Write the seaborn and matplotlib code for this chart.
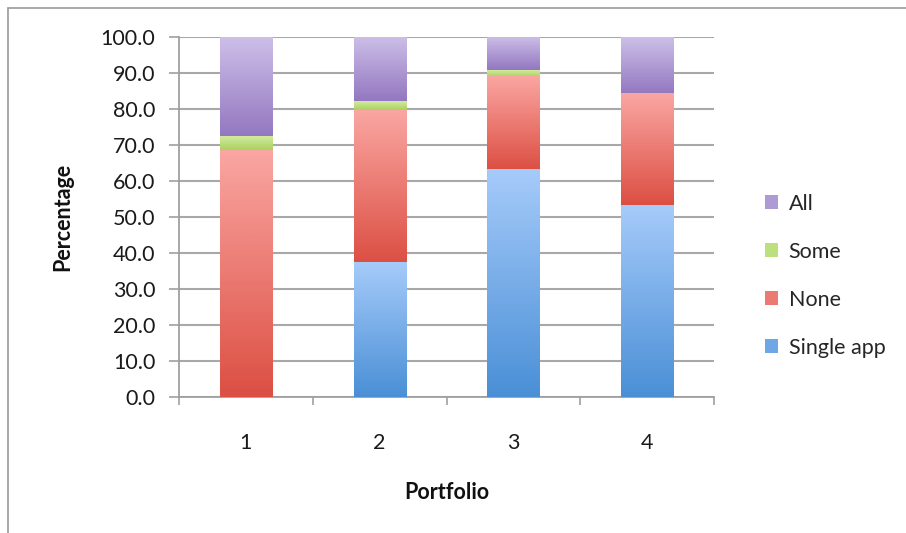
import numpy as np
import pandas as pd
import matplotlib
matplotlib.use("Agg")
import matplotlib.pyplot as plt
from matplotlib.colors import LinearSegmentedColormap
from matplotlib.lines import Line2D
from matplotlib.patches import Patch
import seaborn as sns

# Data: share of each portfolio by coverage type
portfolios = ["1", "2", "3", "4"]
single_app = [0.0, 37.3, 63.1, 53.2]
none_vals = [68.6, 42.3, 25.9, 31.0]
some_vals = [3.7, 2.5, 1.7, 0.0]
all_vals = [27.7, 17.9, 9.3, 15.8]

series_names = ["Single app", "None", "Some", "All"]
series_values = [single_app, none_vals, some_vals, all_vals]
# (top colour, bottom colour) for the vertical gradient of each series
series_colors = {
    "Single app": ("#a6cbfa", "#4a8fd6"),
    "None": ("#faa6a2", "#dc4f43"),
    "Some": ("#d2eaa0", "#a9d25c"),
    "All": ("#cdbfe8", "#9377c0"),
}
legend_colors = {
    "Single app": "#6fa6e6",
    "None": "#ec7a72",
    "Some": "#bde07e",
    "All": "#ad9bd6",
}

sns.set_theme(style="white")
plt.rcParams["font.family"] = ["Lato", "DejaVu Sans"]
FS = 15.5

fig = plt.figure(figsize=(9.06, 5.33), dpi=100)
ax = fig.add_axes([0.1976, 0.2552, 0.5905, 0.6754])

df = pd.DataFrame({"Portfolio": portfolios})
cum = np.zeros(len(portfolios))
bounds = []
for name, vals in zip(series_names, series_values):
    lower = cum.copy()
    cum = cum + np.array(vals)
    bounds.append((name, lower, cum.copy()))

# Draw the cumulative stacks from the tallest down so each layer shows its segment
for name, lower, upper in reversed(bounds):
    df["value"] = upper
    sns.barplot(data=df, x="Portfolio", y="value", ax=ax, width=0.39,
                color="white", edgecolor="none", linewidth=0, zorder=2)

# Replace flat fills by gradients spanning each visible segment
layers = list(reversed(bounds))
n = len(portfolios)
for k, (name, lower, upper) in enumerate(layers):
    cmap = LinearSegmentedColormap.from_list(name, [series_colors[name][1], series_colors[name][0]])
    grad = np.linspace(0, 1, 256).reshape(-1, 1)
    for i, patch in enumerate(ax.patches[k * n:(k + 1) * n]):
        patch.set_facecolor("none")
        if upper[i] - lower[i] <= 0:
            continue
        x0 = patch.get_x()
        x1 = x0 + patch.get_width()
        ax.imshow(grad, extent=[x0, x1, lower[i], upper[i]], origin="lower",
                  cmap=cmap, aspect="auto", zorder=3 + k, interpolation="bicubic")

ax.set_xlim(-0.5, n - 0.5)
ax.set_ylim(0, 100)
ax.set_yticks(np.arange(0, 101, 10))
ax.set_yticklabels([f"{v:.1f}" for v in np.arange(0, 101, 10)], fontsize=FS, color="#1a1a1a")
ax.set_xticks(range(n))
ax.set_xticklabels(portfolios, fontsize=FS, color="#1a1a1a")
ax.set_xticks(np.arange(-0.5, n, 1.0), minor=True)
ax.tick_params(axis="x", which="major", length=0, pad=26)
ax.tick_params(axis="x", which="minor", length=6, width=1.2, color="#a0a0a0", direction="out", bottom=True)
ax.tick_params(axis="y", length=7, width=1.2, color="#a0a0a0", direction="out", left=True, pad=10)

ax.grid(axis="y", color="#a8a8a8", linewidth=1.5, zorder=0)
ax.set_axisbelow(True)
for s in ["top", "right"]:
    ax.spines[s].set_visible(False)
for s in ["left", "bottom"]:
    ax.spines[s].set_color("#a0a0a0")
    ax.spines[s].set_linewidth(1.3)

ax.set_ylabel("Percentage", fontsize=FS, fontweight="bold", labelpad=20, color="#111111")
ax.set_xlabel("Portfolio", fontsize=FS, fontweight="bold", labelpad=21, color="#111111")

handles = [Patch(facecolor=legend_colors[nm], edgecolor="none", label=nm)
           for nm in ["All", "Some", "None", "Single app"]]
fig.legend(handles=handles, loc="center left", bbox_to_anchor=(0.823, 0.483),
           frameon=False, fontsize=FS, handlelength=0.6, handleheight=0.6,
           labelspacing=1.3, handletextpad=0.5)

# Outer frame lines along the top and left of the figure
fig.add_artist(Line2D([0.009, 1.0], [0.985, 0.985], transform=fig.transFigure, color="#9a9a9a", linewidth=1.2))
fig.add_artist(Line2D([0.009, 0.009], [0.0, 0.985], transform=fig.transFigure, color="#9a9a9a", linewidth=1.2))

fig.savefig("out.png", dpi=100, facecolor="white")
